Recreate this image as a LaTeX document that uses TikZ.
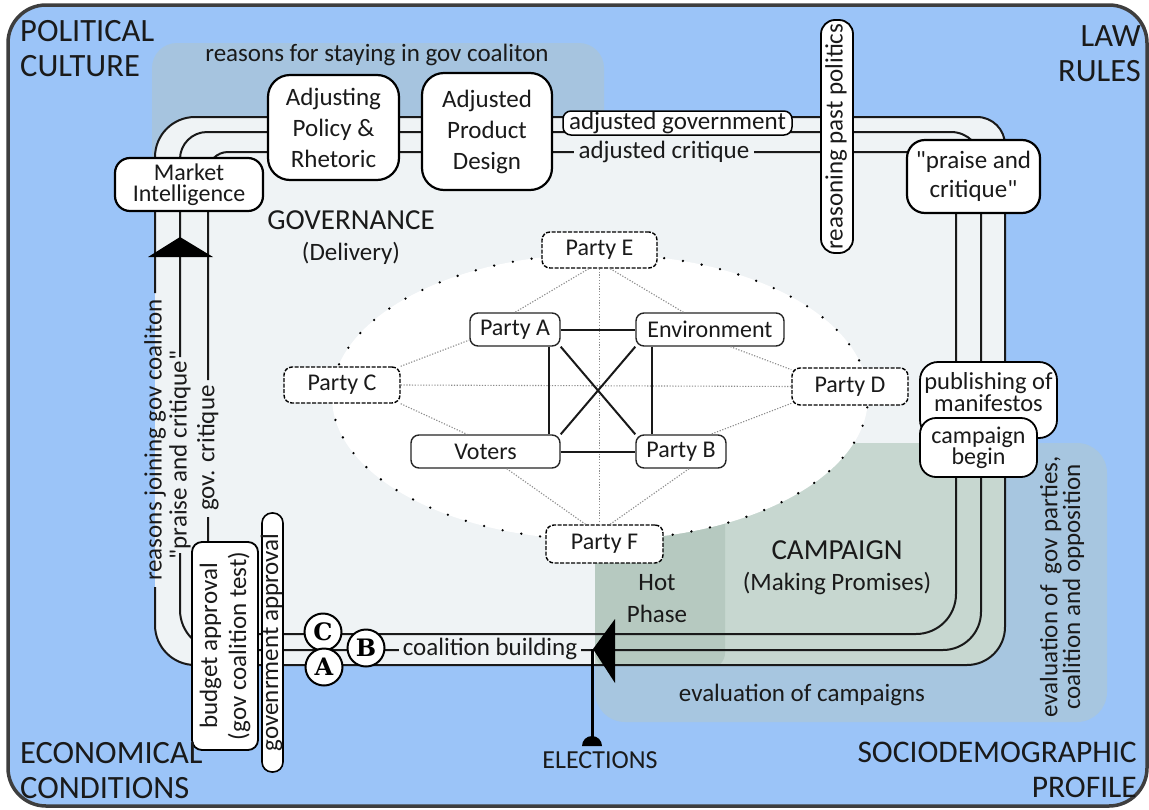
\documentclass[tikz,border=0pt]{standalone}
\usepackage{fontspec}
\setmainfont{Carlito}[Ligatures=TeXOff]
\newfontfamily\circfont{DejaVu Serif}
\usetikzlibrary{calc}
\definecolor{bgblue}{HTML}{9BC4F8}
\definecolor{framecol}{HTML}{3E3E3E}
\definecolor{topshade}{HTML}{A6C4DF}
\definecolor{campshade}{HTML}{A7C6E0}
\definecolor{govgray}{HTML}{EFF3F5}
\definecolor{campin}{HTML}{C7D7D0}
\definecolor{hotin}{HTML}{B6C9C0}
\definecolor{txt}{HTML}{1A1A1A}
\definecolor{dotgray}{HTML}{8C8C8C}
\newcommand\fbig{\fontsize{32.5}{35}\selectfont}
\newcommand\fsec{\fontsize{29}{31}\selectfont}
\newcommand\fbody{\fontsize{25}{31}\selectfont}
\newcommand\ftight{\fontsize{24}{21}\selectfont}
\newcommand\fparty{\fontsize{24}{26}\selectfont}
\tikzset{
  bx/.style={draw=black, line width=2.2pt, fill=white, rounded corners=#1, align=center, inner sep=0pt, text=txt},
  bx/.default=16pt,
  pty/.style={draw=black!85, line width=1.4pt, fill=white, rounded corners=8pt, inner sep=0pt, font=\fparty, text=txt},
  ptyd/.style={pty, draw=black, dash pattern=on 4pt off 1.5pt},
  trk/.style={line width=2pt, draw=black!90},
  lbl/.style={inner sep=0pt, font=\fbody, text=txt},
  dotlink/.style={draw=dotgray, line width=1.1pt, dash pattern=on 1.2pt off 1.6pt},
  solidlink/.style={draw=black!90, line width=2pt},
  corner/.style={inner sep=0pt, font=\fbig, text=txt},
  circ/.style={circle, draw=black, line width=2pt, fill=white, minimum size=37pt, inner sep=0pt, font=\circfont\bfseries\fontsize{24}{26}\selectfont}
}
\begin{document}
\begin{tikzpicture}[x=1pt,y=-1pt]
\useasboundingbox (0,0) rectangle (1149,809);
% frame
\draw[line width=3.5pt, draw=framecol, fill=bgblue, rounded corners=38pt] (8,5) rectangle (1147,806);
% shaded regions
\fill[topshade, rounded corners=25pt] (152,43) rectangle (604,180);
\fill[campshade, rounded corners=30pt] (595,443) rectangle (1107,722);
% governance area
\fill[govgray] (195,117) -- (977,117) .. controls (992.5,117) and (1005,129.5) .. (1005,145) -- (1005,627) .. controls (1005,648) and (988,665) .. (967,665) -- (195,665) .. controls (172.9,665) and (155,647.1) .. (155,625) -- (155,157) .. controls (155,134.9) and (172.9,117) .. (195,117) -- cycle;
\begin{scope}
\clip (195,117) -- (977,117) .. controls (992.5,117) and (1005,129.5) .. (1005,145) -- (1005,627) .. controls (1005,648) and (988,665) .. (967,665) -- (195,665) .. controls (172.9,665) and (155,647.1) .. (155,625) -- (155,157) .. controls (155,134.9) and (172.9,117) .. (195,117) -- cycle;
\fill[campin, rounded corners=30pt] (595,443) rectangle (1107,722);
\fill[hotin, rounded corners=15pt] (595,443) rectangle (725,668);
\end{scope}
% ellipse
\draw[fill=white, draw=black, line width=2.6pt, dash pattern=on 0pt off 19pt, line cap=round] (600,397) ellipse [x radius=268pt, y radius=143pt];
% party nodes
\node[ptyd, minimum width=115pt, minimum height=36pt] (E) at (599.5,250) {Party E};
\node[pty, minimum width=90pt, minimum height=33pt] (A) at (515,329.5) {Party A};
\node[pty, minimum width=148pt, minimum height=33pt] (Env) at (710,329.5) {Environment};
\node[ptyd, minimum width=116pt, minimum height=36pt] (C) at (342,385) {Party C};
\node[ptyd, minimum width=116pt, minimum height=37pt] (D) at (850,386.5) {Party D};
\node[pty, minimum width=149pt, minimum height=33pt] (V) at (485.5,451.5) {Voters};
\node[pty, minimum width=90pt, minimum height=33pt] (B) at (681,451.5) {Party B};
\node[ptyd, minimum width=117pt, minimum height=38pt] (F) at (604.5,544) {Party F};
% dotted links
\draw[dotlink] (E.south) -- (E.south |- F.north);
\draw[dotlink] (C.east) -- (D.west);
\draw[dotlink] (E.240) -- (A.north);
\draw[dotlink] (E.300) -- (Env.147);
\draw[dotlink] (C.north east) -- (A.193);
\draw[dotlink] (C.south east) -- (V.137);
\draw[dotlink] (Env.320) -- (D.164);
\draw[dotlink] (D.196) -- (B.30);
\draw[dotlink] (V.321) -- (F.134);
\draw[dotlink] (B.295) -- (F.74);
% solid links
\draw[solidlink] (A.east) -- (Env.west);
\draw[solidlink] (V.east) -- (B.west);
\draw[solidlink] ($(A.south east)+(-12,0)$) -- ($(V.north east)+(-12,0)$);
\draw[solidlink] ($(Env.south west)+(17,0)$) -- ($(B.north west)+(17,0)$);
\draw[solidlink] (A.south east) -- (B.north west);
\draw[solidlink] (Env.south west) -- (V.north east);
% track lines
\draw[trk] (155,587) -- (155,625) .. controls (155,647.1) and (172.9,665) .. (195,665) -- (967,665) .. controls (988,665) and (1005,648) .. (1005,627) -- (1005,145) .. controls (1005,129.5) and (992.5,117) .. (977,117) -- (195,117) .. controls (172.9,117) and (155,134.9) .. (155,157) -- (155,293);
\draw[trk] (180,553) -- (180,610) .. controls (180,632.1) and (197.9,650) .. (220,650) -- (943,650) .. controls (964,650) and (981,633) .. (981,612) -- (981,162) .. controls (981,145.4) and (967.6,132) .. (951,132) -- (207,132) .. controls (192.1,132) and (180,144.1) .. (180,159) -- (180,357);
\draw[trk] (208,517) -- (208,594) .. controls (208,616.1) and (225.9,634) .. (248,634) -- (916,634) .. controls (938.1,634) and (956,616.1) .. (956,594) -- (956,177) .. controls (956,163.2) and (944.8,152) .. (931,152) -- (228,152) .. controls (217,152) and (208,161) .. (208,172) -- (208,380);
% arrows
\fill[black] (180,237) -- (213,257) -- (148,257) -- cycle;
\fill[black] (593,649) -- (615,619) -- (615,683) -- cycle;
% elections
\coordinate (elTop) at (592,649);
\coordinate (elBot) at (592,746);
\draw[line width=3pt] (elTop) -- (elBot);
\fill[black] (582,746) .. controls (582,740.5) and (586.5,736) .. (592,736) .. controls (597.5,736) and (602,740.5) .. (602,746) -- cycle;
\node[lbl, font=\fontsize{26}{28}\selectfont] (elec) at (600,760) {ELECTIONS};
% labels on lines
\node[lbl, fill=govgray, inner xsep=5pt, inner ysep=2pt] (critq) at (664,152) {adjusted critique};
\node[lbl, fill=govgray, inner xsep=4pt, inner ysep=2pt] (coal) at (490,649) {coalition building};
\node[lbl, rotate=90] (rjoin) at (155,440) {reasons joining gov coaliton};
\node[lbl, rotate=90] (pcl) at (180,455) {"praise and critique"};
\node[lbl, rotate=90] (gcr) at (208,448) {gov. critique};
% boxes
\node[bx=15pt, font=\ftight, minimum width=148pt, minimum height=53pt] (mi) at (189,184.5) {Market\\Intelligence};
\node[bx=22pt, font=\fbody, minimum width=131pt, minimum height=105pt] (adj) at (333.5,127.5) {Adjusting\\Policy \&\\Rhetoric};
\node[bx=22pt, font=\fbody, minimum width=130pt, minimum height=117pt] (apd) at (487,131.5) {Adjusted\\Product\\Design};
\node[bx=8pt, line width=1.5pt, font=\fbody, minimum width=229pt, minimum height=24pt, text height=16pt, text depth=4pt] (agov) at (677.5,123) {adjusted government};
\node[bx=14pt, line width=1.8pt, font=\fbody, rotate=90, minimum width=233pt, minimum height=32pt, text height=16pt, text depth=5pt] (rpp) at (837,136.5) {reasoning past politics};
\node[bx=18pt, font=\fontsize{25}{29}\selectfont, minimum width=133pt, minimum height=73pt] (pc) at (973.5,176.5) {"praise and\\critique"};
\node[bx=18pt, line width=1.8pt, font=\ftight, minimum width=137pt, minimum height=76pt] (pub) at (988.5,400) {};
\node[lbl, font=\fontsize{24.5}{20}\selectfont, align=center] (pubt) at (988.5,392) {publishing of\\manifestos};
\node[bx=16pt, line width=1.8pt, font=\ftight, minimum width=117pt, minimum height=59pt] (cb) at (978.5,447.5) {campaign\\begin};
\node[bx=10pt, line width=1.8pt, rotate=90, font=\fontsize{25}{29}\selectfont, minimum width=208pt, minimum height=66pt] (bud) at (225,646) {budget approval\\(gov coalition test)};
\node[bx=10pt, line width=1.6pt, rotate=90, font=\fbody, minimum width=259pt, minimum height=21pt, text height=15pt, text depth=4pt] (gapp) at (272.5,642.5) {govenrment approval};
% circles
\node[circ] (cC) at (323,632) {C};
\node[circ] (cA) at (324,667) {A};
\node[circ] (cB) at (366,648) {B};
% texts
\node[lbl] (rstay) at (377,55) {reasons for staying in gov coaliton};
\node[corner, anchor=north west, align=left] (pol) at (20,20) {POLITICAL\\CULTURE};
\node[corner, anchor=north east, align=right] (law) at (1141,25) {LAW\\RULES};
\node[corner, anchor=north west, align=left] (eco) at (20,742) {ECONOMICAL\\CONDITIONS};
\node[corner, anchor=north east, align=right, font=\fontsize{31.5}{35}\selectfont] (soc) at (1137,742) {SOCIODEMOGRAPHIC\\PROFILE};
\node[lbl, font=\fsec, anchor=north, align=center] (gov) at (351,210) {GOVERNANCE\\\fbody (Delivery)};
\node[lbl, font=\fsec, anchor=north, align=center] (camp) at (837,540) {CAMPAIGN\\\fbody (Making Promises)};
\node[lbl, align=center, font=\fontsize{25}{32}\selectfont] (hot) at (657,599) {Hot\\Phase};
\node[lbl] (evc) at (802,695) {evaluation of campaigns};
\node[lbl, rotate=90, align=center, font=\fontsize{25}{20}\selectfont] (evg) at (1062,587) {evaluation of\ \ gov parties,\\coalition and opposition};
\end{tikzpicture}
\end{document}
